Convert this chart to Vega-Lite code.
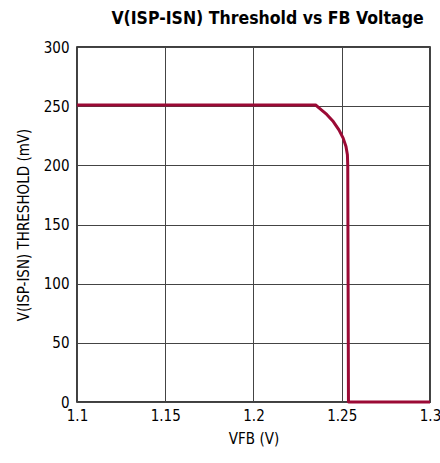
{
  "$schema": "https://vega.github.io/schema/vega-lite/v6.json",
  "width": 353,
  "height": 355,
  "autosize": {"type": "none"},
  "padding": {"left": 77, "top": 47, "right": 10, "bottom": 61},
  "title": {
    "text": "V(ISP-ISN) Threshold vs FB Voltage",
    "font": "DejaVu Sans Condensed",
    "fontSize": 17.5,
    "fontWeight": "bold",
    "color": "#000",
    "anchor": "middle",
    "dx": 14,
    "offset": 13
  },
  "config": {
    "view": {"stroke": "#000", "strokeWidth": 1.5},
    "axis": {
      "labelFont": "DejaVu Sans Condensed",
      "titleFont": "DejaVu Sans Condensed",
      "labelFontSize": 15,
      "titleFontSize": 15,
      "titleFontWeight": "normal",
      "labelColor": "#000",
      "titleColor": "#000",
      "gridColor": "#444",
      "gridOpacity": 1,
      "gridWidth": 1,
      "tickSize": 0,
      "domain": false
    }
  },
  "data": {
    "values": [
      {"fb": 1.1, "v": 251},
      {"fb": 1.2352, "v": 251},
      {"fb": 1.2376, "v": 248},
      {"fb": 1.2415, "v": 243},
      {"fb": 1.2452, "v": 237},
      {"fb": 1.2484, "v": 230},
      {"fb": 1.2508, "v": 223},
      {"fb": 1.2524, "v": 216},
      {"fb": 1.2532, "v": 209},
      {"fb": 1.2534, "v": 200},
      {"fb": 1.2538, "v": 0},
      {"fb": 1.3, "v": 0}
    ]
  },
  "mark": {"type": "line", "color": "#9b0a35", "strokeWidth": 3, "clip": false, "strokeJoin": "round"},
  "encoding": {
    "x": {
      "field": "fb",
      "type": "quantitative",
      "scale": {"domain": [1.1, 1.3], "nice": false},
      "axis": {"values": [1.1, 1.15, 1.2, 1.25, 1.3], "format": "~g", "labelPadding": 6, "title": "VFB (V)", "titlePadding": 8, "labelFlush": false}
    },
    "y": {
      "field": "v",
      "type": "quantitative",
      "scale": {"domain": [0, 300], "nice": false},
      "axis": {"values": [0, 50, 100, 150, 200, 250, 300], "labelPadding": 8, "title": "V(ISP-ISN) THRESHOLD (mV)", "titlePadding": 12}
    }
  }
}
